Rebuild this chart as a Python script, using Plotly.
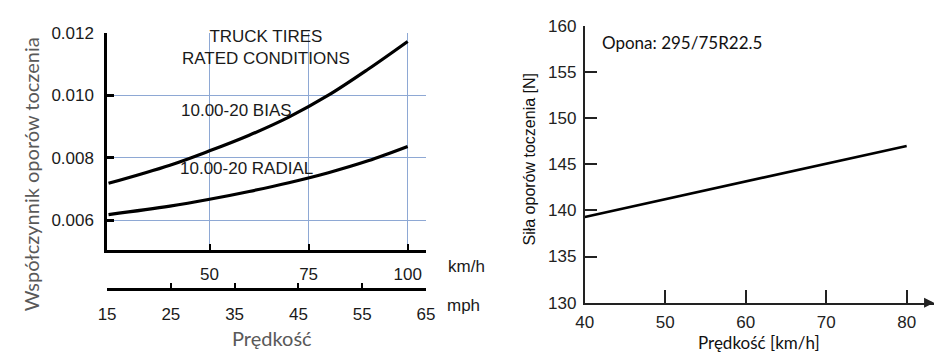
import plotly.graph_objects as go

W, H = 945, 360

# ---------------- data ----------------
speed_kmh = [24.5, 40, 50, 60, 70, 80, 90, 100]
bias_crr = [0.00718, 0.00776, 0.00822, 0.00872, 0.00930, 0.01000, 0.01083, 0.01172]
radial_crr = [0.00618, 0.00645, 0.00667, 0.00692, 0.00720, 0.00752, 0.00790, 0.00836]

kmh_ticks = [50, 75, 100]
mph_ticks = [15, 25, 35, 45, 55, 65]
crr_ticks = [0.006, 0.008, 0.010, 0.012]

right_speed = [40, 80]
right_force = [139.3, 147.0]
right_x_ticks = [40, 50, 60, 70, 80]
right_y_ticks = [130, 135, 140, 145, 150, 155, 160]

MPH_TO_KMH = 1.609344

def px(x):
    return x / W

def py(y):
    return (H - y) / H

ARIAL = "Liberation Sans, Arial, sans-serif"
CAL = "Lato, Open Sans, sans-serif"
GRID = "#8ea8d4"

fig = go.Figure()

fig.add_trace(go.Scatter(x=speed_kmh, y=bias_crr, mode="lines",
                         line=dict(color="black", width=3.2, shape="spline", smoothing=1.0),
                         xaxis="x", yaxis="y", showlegend=False, hoverinfo="skip"))
fig.add_trace(go.Scatter(x=speed_kmh, y=radial_crr, mode="lines",
                         line=dict(color="black", width=3.2, shape="spline", smoothing=1.0),
                         xaxis="x", yaxis="y", showlegend=False, hoverinfo="skip"))
# invisible trace so the mph axis is drawn
fig.add_trace(go.Scatter(x=[mph_ticks[0], mph_ticks[-1]], y=[None, None], mode="lines",
                         xaxis="x3", yaxis="y", showlegend=False, hoverinfo="skip"))

fig.add_trace(go.Scatter(x=right_speed, y=right_force, mode="lines",
                         line=dict(color="black", width=2.6),
                         xaxis="x2", yaxis="y2", showlegend=False, hoverinfo="skip"))

left_dom_x = [px(100), px(425)]
left_dom_y = [py(254), py(25)]
right_dom_x = [px(587), px(943)]
right_dom_y = [py(310), py(18)]

fig.update_layout(
    width=W, height=H,
    margin=dict(l=0, r=0, t=0, b=0),
    paper_bgcolor="white", plot_bgcolor="white",
    showlegend=False,
    xaxis=dict(
        domain=left_dom_x,
        range=[mph_ticks[0] * MPH_TO_KMH, mph_ticks[-1] * MPH_TO_KMH],
        tickvals=kmh_ticks, ticktext=[str(v) for v in kmh_ticks],
        ticks="inside", ticklen=6, tickwidth=2, tickcolor="black",
        showline=True, linecolor="black", linewidth=2.5,
        showgrid=True, gridcolor=GRID, gridwidth=1,
        zeroline=False, anchor="y",
        tickfont=dict(family=ARIAL, size=17, color="#1a1a1a"),
        ticklabelstandoff=7,
    ),
    xaxis3=dict(
        domain=left_dom_x,
        overlaying="x", anchor="free", position=py(296), side="bottom",
        range=[mph_ticks[0], mph_ticks[-1]],
        tickvals=mph_ticks, ticktext=[str(v) for v in mph_ticks],
        ticks="inside", ticklen=6, tickwidth=2, tickcolor="black",
        showline=True, linecolor="black", linewidth=2.5,
        showgrid=False, zeroline=False,
        tickfont=dict(family=ARIAL, size=17, color="#1a1a1a"),
        ticklabelstandoff=8,
    ),
    yaxis=dict(
        domain=left_dom_y,
        range=[0.00506, 0.012],
        tickvals=crr_ticks, tickformat=".3f",
        ticks="inside", ticklen=7, tickwidth=2.5, tickcolor="black",
        showline=True, linecolor="black", linewidth=2.5,
        showgrid=True, gridcolor=GRID, gridwidth=1,
        zeroline=False, anchor="x",
        tickfont=dict(family=ARIAL, size=17, color="#1a1a1a"),
        ticklabelstandoff=7,
    ),
    xaxis2=dict(
        domain=right_dom_x,
        range=[40, 83.4],
        tickvals=right_x_ticks,
        ticks="inside", ticklen=13, tickwidth=2, tickcolor="#222",
        showline=True, linecolor="#222", linewidth=2,
        showgrid=False, zeroline=False, anchor="y2",
        tickfont=dict(family=ARIAL, size=17, color="#222"),
        ticklabelstandoff=3,
    ),
    yaxis2=dict(
        domain=right_dom_y,
        range=[130, 160],
        tickvals=right_y_ticks,
        ticks="inside", ticklen=12, tickwidth=2, tickcolor="#222",
        showline=True, linecolor="#222", linewidth=2,
        showgrid=False, zeroline=False, anchor="x2",
        tickfont=dict(family=ARIAL, size=17, color="#222"),
        ticklabelstandoff=3,
    ),
)

ann = []
# left chart texts
ann.append(dict(text="Współczynnik oporów toczenia", x=px(22), y=py(175), xref="paper", yref="paper",
                textangle=-90, showarrow=False, font=dict(family=CAL, size=20, color="#595959"),
                xanchor="center", yanchor="middle"))
ann.append(dict(text="Prędkość", x=px(268), y=py(347), xref="paper", yref="paper",
                showarrow=False, font=dict(family=CAL, size=20, color="#595959"),
                xanchor="center", yanchor="middle"))
ann.append(dict(text="km/h", x=px(445), y=py(272), xref="paper", yref="paper",
                showarrow=False, font=dict(family=ARIAL, size=17, color="#1a1a1a"),
                xanchor="left", yanchor="middle"))
ann.append(dict(text="mph", x=px(444), y=py(313), xref="paper", yref="paper",
                showarrow=False, font=dict(family=ARIAL, size=17, color="#1a1a1a"),
                xanchor="left", yanchor="middle"))
ann.append(dict(text="TRUCK TIRES<br>RATED CONDITIONS", x=px(262), y=py(41), xref="paper", yref="paper",
                showarrow=False, font=dict(family=ARIAL, size=17, color="#1a1a1a"),
                xanchor="center", yanchor="middle", align="center"))
ann.append(dict(text="10.00-20 BIAS", x=px(232), y=py(107), xref="paper", yref="paper",
                showarrow=False, font=dict(family=ARIAL, size=17, color="#1a1a1a"),
                xanchor="center", yanchor="middle"))
ann.append(dict(text="10.00-20 RADIAL", x=px(242), y=py(168), xref="paper", yref="paper",
                showarrow=False, font=dict(family=ARIAL, size=17, color="#1a1a1a"),
                xanchor="center", yanchor="middle"))
# right chart texts
ann.append(dict(text="Siła oporów toczenia [N]", x=px(531), y=py(158), xref="paper", yref="paper",
                textangle=-90, showarrow=False, font=dict(family=ARIAL, size=16, color="#111"),
                xanchor="center", yanchor="middle"))
ann.append(dict(text="Opona: 295/75R22.5", x=px(602), y=py(35), xref="paper", yref="paper",
                showarrow=False, font=dict(family=CAL, size=17, color="#111"),
                xanchor="left", yanchor="middle"))
ann.append(dict(text="Prędkość [km/h]", x=px(765), y=py(352), xref="paper", yref="paper",
                showarrow=False, font=dict(family=CAL, size=17, color="#111"),
                xanchor="center", yanchor="middle"))
# arrow head at end of right x axis
ann.append(dict(text="", x=83.4, y=130, xref="x2", yref="y2", ax=-9, ay=0,
                showarrow=True, arrowhead=2, arrowsize=1, arrowwidth=2, arrowcolor="#222"))

fig.update_layout(annotations=ann)

fig.write_html("out.html")
